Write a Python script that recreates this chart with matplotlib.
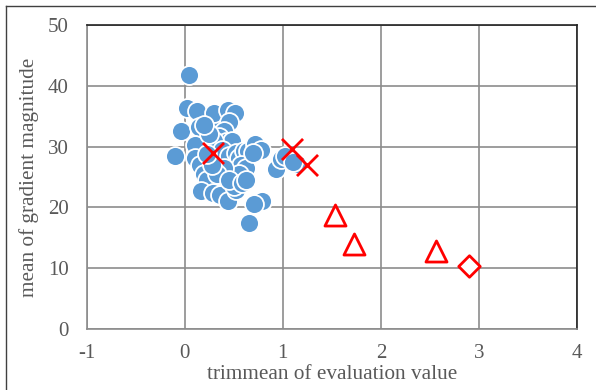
"""
trimmean of evaluation value vs mean of gradient magnitude
"""
import matplotlib
matplotlib.use("Agg")
import matplotlib.pyplot as plt
from matplotlib.lines import Line2D

# blue cluster (overlapping points)
blue_x = [0.04, 0.02, 0.12, -0.04, 0.15, 0.10, -0.10, 0.10, 0.16, 0.20,
          0.23, 0.17, 0.29, 0.36, 0.44, 0.52, 0.50, 0.33, 0.30, 0.44,
          0.51, 0.45, 0.40, 0.35, 0.42, 0.48, 0.30, 0.25, 0.38, 0.45,
          0.52, 0.55, 0.60, 0.64, 0.57, 0.62, 0.55, 0.40, 0.33, 0.28,
          0.45, 0.58, 0.62, 0.72, 0.78, 0.70, 0.79, 0.71, 0.66, 0.93,
          0.98, 1.02, 1.14, 1.10, 0.20, 0.23]
blue_y = [41.8, 36.3, 35.8, 32.5, 33.2, 30.3, 28.5, 28.2, 27.0, 25.5,
          24.5, 22.7, 22.3, 22.0, 21.0, 22.9, 23.5, 34.9, 35.5, 36.0,
          35.5, 34.0, 32.5, 31.5, 30.8, 31.0, 31.0, 32.0, 29.5, 28.5,
          29.0, 28.2, 29.3, 29.2, 27.0, 26.5, 25.5, 26.5, 25.5, 27.0,
          24.5, 24.0, 24.5, 30.5, 29.5, 29.0, 21.0, 20.6, 17.5, 26.3,
          28.0, 28.4, 27.2, 27.5, 33.5, 28.8]

cross_x = [0.29, 1.09, 1.25]
cross_y = [29.0, 29.6, 26.9]

tri_x = [1.53, 1.73, 2.56]
tri_y = [18.7, 14.0, 12.8]

dia_x = [2.90]
dia_y = [10.4]

plt.rcParams["font.family"] = ["Liberation Serif", "DejaVu Serif"]
plt.rcParams["axes.unicode_minus"] = False
GREY = "#595959"

fig = plt.figure(figsize=(5.96, 3.9), dpi=100)
ax = fig.add_axes([86.7 / 596, 1 - 329 / 390, (577 - 86.7) / 596, (329 - 25) / 390])

ax.scatter(blue_x, blue_y, s=185, color="#5B9BD5", edgecolors="white", linewidths=1.3, zorder=3)
ax.scatter(cross_x, cross_y, s=230, marker="x", color="#FF0000", linewidths=2, zorder=4)
ax.scatter(tri_x, tri_y, s=230, marker="^", facecolors="white", edgecolors="#FF0000", linewidths=2, zorder=4)
ax.scatter(dia_x, dia_y, s=120, marker="D", facecolors="white", edgecolors="#FF0000", linewidths=2, zorder=4)

ax.set_xlim(-1, 4)
ax.set_ylim(0, 50)
ax.set_xticks(range(-1, 5))
ax.set_yticks(range(0, 51, 10))
ax.grid(True, color="#8c8c8c", linewidth=1.2, zorder=0)
ax.set_axisbelow(True)
ax.tick_params(length=0, labelsize=15, labelcolor=GREY)
ax.tick_params(axis="y", pad=13)
ax.tick_params(axis="x", pad=11)
for side in ["top", "right"]:
    ax.spines[side].set_color("#222222")
    ax.spines[side].set_linewidth(1.2)
for side in ["left", "bottom"]:
    ax.spines[side].set_color("#8c8c8c")
    ax.spines[side].set_linewidth(1.2)

ax.set_xlabel("trimmean of evaluation value", fontsize=15.3, color=GREY, labelpad=1)
ax.set_ylabel("mean of gradient magnitude", fontsize=15.3, color=GREY, labelpad=6)

# outer chart border
fig.add_artist(Line2D([5.5 / 596, 1], [1 - 5.5 / 390] * 2, color="#404040", lw=1))
fig.add_artist(Line2D([5.5 / 596] * 2, [0, 1 - 5.5 / 390], color="#404040", lw=1))

fig.savefig("out.png", dpi=100)
